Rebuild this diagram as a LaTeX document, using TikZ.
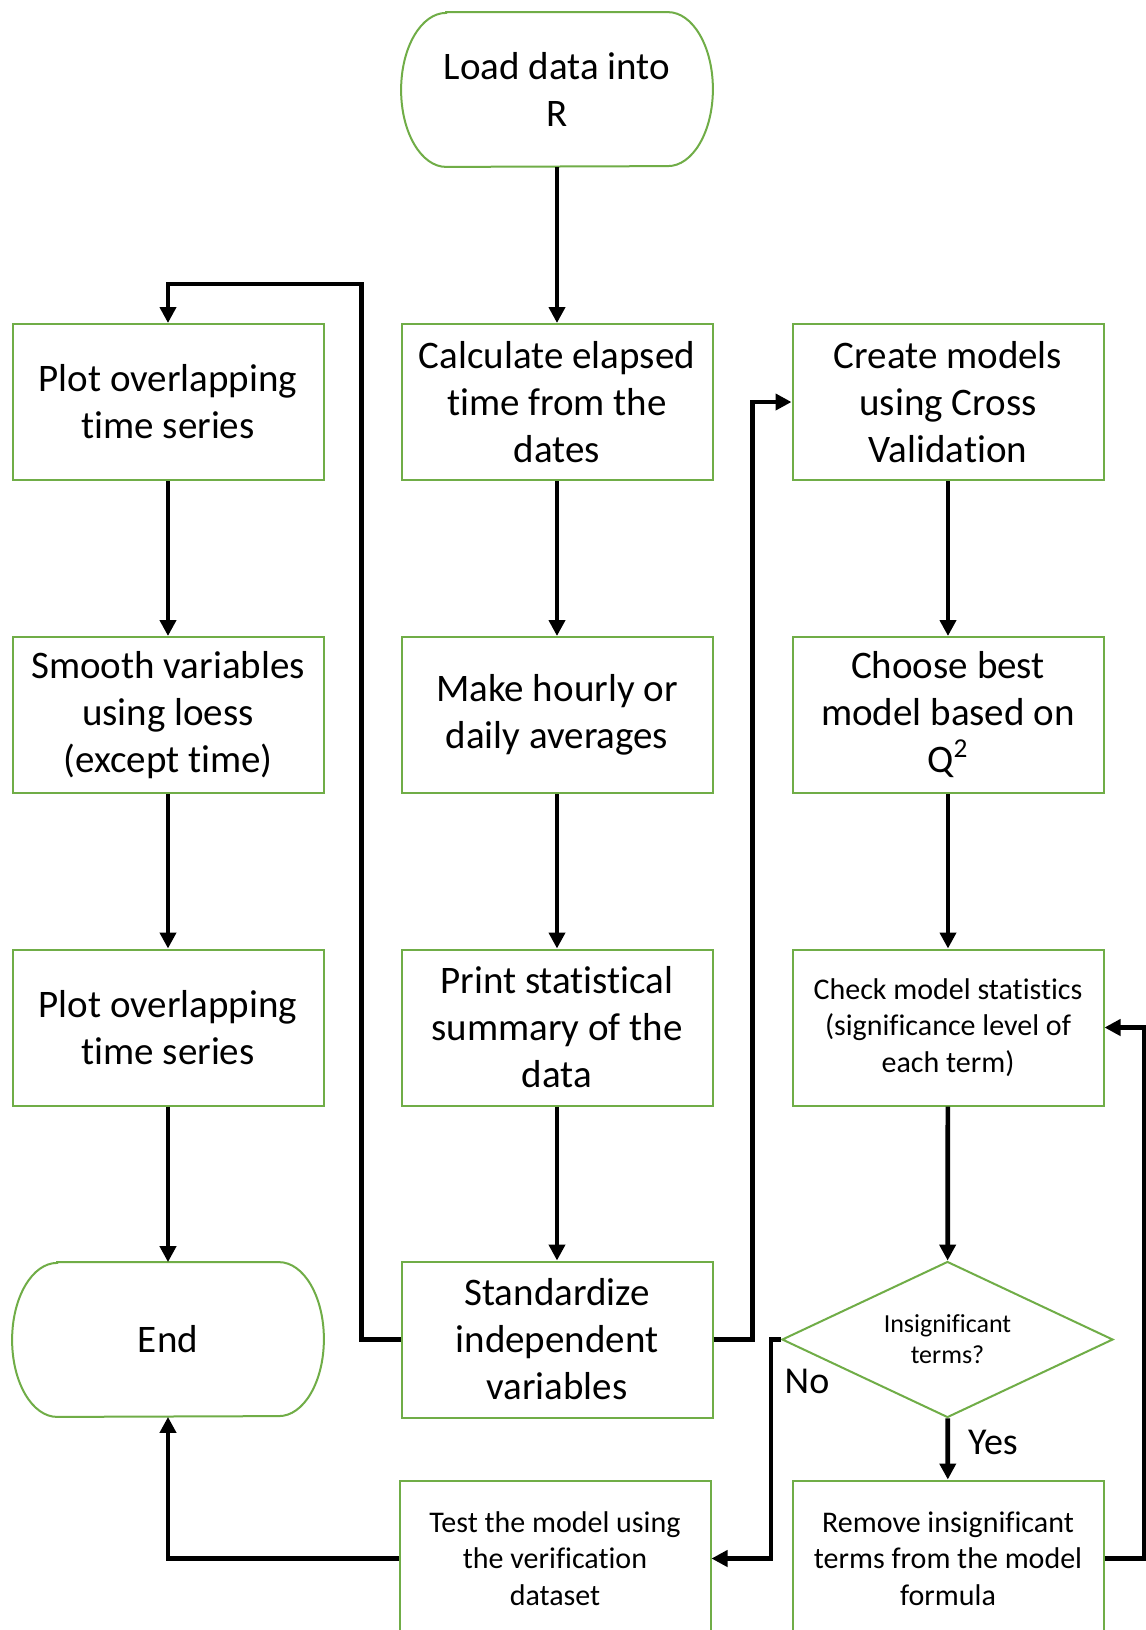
\documentclass[tikz,border=0pt]{standalone}
\usepackage{fontspec}
\setmainfont{Carlito}[Ligatures=NoCommon]
\usetikzlibrary{arrows.meta,shapes.geometric,calc}
\definecolor{boxgreen}{HTML}{70AD47}
\begin{document}
\begin{tikzpicture}[x=0.5pt,y=-0.5pt,
  box/.style={draw=boxgreen,line width=1pt,minimum width=155.5pt,minimum height=78pt,align=center,inner sep=0pt,font=\fontsize{19.5}{23.5}\selectfont},
  sbox/.style={box,font=\fontsize{15}{18.2}\selectfont},
  term/.style={minimum width=155.5pt,minimum height=77pt,align=center,inner sep=0pt,font=\fontsize{19.5}{23.5}\selectfont},
  dec/.style={diamond,draw=boxgreen,line width=1pt,aspect=2.12,minimum width=165.5pt,minimum height=78pt,align=center,inner sep=0pt,font=\fontsize{13}{15.5}\selectfont},
  conn/.style={line width=2.35pt,-{Triangle[length=8pt,width=8pt]}},
  lab/.style={font=\fontsize{19}{23}\selectfont}]
\useasboundingbox (0,0) rectangle (1146,1630);
\clip (0,0) rectangle (1146,1630);
\fill[white] (0,0) rectangle (1146,1630);

\node[term] (load) at (557,89.5) {Load data into\\R};
\node[box] (plot1) at (168,402) {Plot overlapping\\time series};
\node[box] (calc) at (557,402) {Calculate elapsed\\time from the\\dates};
\node[box] (create) at (948,402) {Create models\\using Cross\\Validation};
\node[box] (smooth) at (168,715) {Smooth variables\\using loess\\(except time)};
\node[box] (hourly) at (557,715) {Make hourly or\\daily averages};
\node[box] (choose) at (948,715) {Choose best\\model based on\\Q\textsuperscript{2}};
\node[box] (plot2) at (168,1027.5) {Plot overlapping\\time series};
\node[box] (print) at (557,1027.5) {Print statistical\\summary of the\\data};
\node[sbox] (check) at (948,1027.5) {Check model statistics\\(significance level of\\each term)};
\node[term] (end) at (168,1339.5) {End};
\node[box] (std) at (557,1339.5) {Standardize\\independent\\variables};
\node[dec] (dia) at (947.5,1339.5) {Insignificant\\terms?};
\node[sbox] (test) at (555,1558.5) {Test the model using\\the verification\\dataset};
\node[sbox] (remove) at (948,1558.5) {Remove insignificant\\terms from the model\\formula};
\node[lab] (no) at (807,1381) {No};
\node[lab] (yes) at (993,1442) {Yes};

\foreach \n in {load,end}{
  \draw[boxgreen,line width=1pt] ($(\n.north west)+(45,0)$) -- ($(\n.north east)+(-45,0)$)
    arc[start angle=90,end angle=-90,x radius=22.5pt,y radius=38.5pt]
    -- ($(\n.south west)+(45,0)$)
    arc[start angle=270,end angle=90,x radius=22.5pt,y radius=38.5pt] -- cycle;
}

\draw[conn] (load) -- (calc);
\draw[conn] (calc) -- (hourly);
\draw[conn] (hourly) -- (print);
\draw[conn] (print) -- (std);
\draw[conn] (plot1) -- (smooth);
\draw[conn] (smooth) -- (plot2);
\draw[conn] (plot2) -- (end);
\draw[conn] (create) -- (choose);
\draw[conn] (choose) -- (check);
\draw[conn] (check) -- (dia);
\draw[conn] (dia) -- (remove);
\draw[conn] (std.west) -- ++(-39,0) |- ($(plot1.north)+(0,-39)$) -- (plot1.north);
\draw[conn] (std.east) -- ++(39,0) |- (create.west);
\draw[conn] (dia.west) -- ++(-10,0) |- (test.east);
\draw[conn] (remove.east) -- ++(40,0) |- (check.east);
\draw[conn] (test.west) -| (end.south);
\end{tikzpicture}
\end{document}
